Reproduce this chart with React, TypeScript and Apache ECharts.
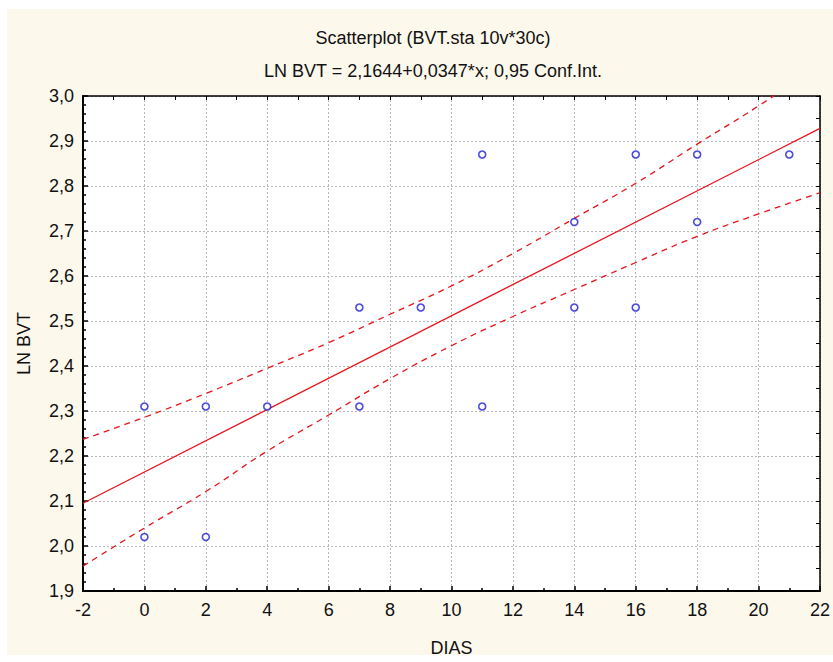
import React, { useEffect, useRef } from "react";
import * as echarts from "echarts";

const titleText = "Scatterplot (BVT.sta 10v*30c)";
const subtitleText = "LN BVT = 2,1644+0,0347*x; 0,95 Conf.Int.";
const xName = "DIAS";
const yName = "LN BVT";

// observed points (DIAS, LN BVT)
const pointX = [0, 0, 2, 2, 4, 7, 7, 9, 11, 11, 14, 14, 16, 16, 18, 18, 21];
const pointY = [2.31, 2.02, 2.31, 2.02, 2.31, 2.53, 2.31, 2.53, 2.87, 2.31, 2.72, 2.53, 2.87, 2.53, 2.87, 2.72, 2.87];

// regression line endpoints (from 2,1644 + 0,0347*x)
const fitX = [-2, 22];
const fitY = [2.095, 2.928];

// 95% confidence band
const bandX = [-2, 0, 2, 4, 6, 8, 10, 12, 14, 16, 18, 20, 22];
const upperY = [2.237, 2.286, 2.339, 2.395, 2.452, 2.515, 2.578, 2.65, 2.728, 2.806, 2.893, 2.978, 3.07];
const lowerY = [1.955, 2.04, 2.121, 2.211, 2.291, 2.372, 2.445, 2.51, 2.57, 2.63, 2.688, 2.738, 2.785];

const FONT = "'Liberation Sans Narrow', 'Arial Narrow', 'Liberation Sans', sans-serif";
const RED = "#e8141c";
const BLUE = "#1f1fd6";

export default function App() {
  const ref = useRef<HTMLDivElement>(null);
  useEffect(() => {
    if (!ref.current) return;
    const chart = echarts.init(ref.current, undefined, { renderer: "svg" });
    const zip = (xs: number[], ys: number[]) => xs.map((x, i) => [x, ys[i]]);
    chart.setOption({
      animation: false,
      backgroundColor: "#ffffff",
      graphic: [
        {
          type: "rect",
          z: -100,
          silent: true,
          shape: { x: 7, y: 9, width: 826, height: 646 },
          style: { fill: "#fdf8ec" },
        },
      ],
      title: [
        {
          text: titleText,
          left: 428,
          textAlign: "center",
          top: 24,
          textStyle: { fontFamily: FONT, fontSize: 18, fontWeight: "normal", color: "#111" },
        },
        {
          text: subtitleText,
          left: 428,
          textAlign: "center",
          top: 57,
          textStyle: { fontFamily: FONT, fontSize: 18, fontWeight: "normal", color: "#111" },
        },
      ],
      grid: {
        left: 83,
        top: 96,
        right: 6,
        bottom: 71,
        show: true,
        backgroundColor: "#ffffff",
        borderColor: "#000",
        borderWidth: 0,
      },
      xAxis: [
        {
          type: "value",
          min: -2,
          max: 22,
          interval: 2,
          position: "bottom",
          name: xName,
          nameLocation: "middle",
          nameGap: 48,
          nameTextStyle: { fontFamily: FONT, fontSize: 18, color: "#111" },
          axisLine: { show: true, onZero: false, lineStyle: { color: "#000", width: 2 } },
          axisTick: { show: true, inside: true, length: 5, lineStyle: { color: "#000", width: 1.5 } },
          minorTick: { show: true, splitNumber: 2, length: 3, lineStyle: { color: "#000", width: 1.5 } },
          axisLabel: { fontFamily: FONT, fontSize: 18, color: "#111", margin: 10 },
          splitLine: { show: true, lineStyle: { color: "#b8b8b8", type: [2, 2], width: 1 } },
        },
        {
          type: "value",
          min: -2,
          max: 22,
          interval: 1,
          position: "top",
          axisLine: { show: true, onZero: false, lineStyle: { color: "#000", width: 1.5 } },
          axisTick: { show: true, inside: true, length: 4, lineStyle: { color: "#000" } },
          axisLabel: { show: false },
          splitLine: { show: false },
        },
      ],
      yAxis: [
        {
          type: "value",
          min: 1.9,
          max: 3.0,
          interval: 0.1,
          position: "left",
          name: yName,
          nameLocation: "middle",
          nameGap: 50,
          nameTextStyle: { fontFamily: FONT, fontSize: 18, color: "#111" },
          axisLine: { show: true, onZero: false, lineStyle: { color: "#000", width: 2 } },
          axisTick: { show: true, inside: true, length: 5, lineStyle: { color: "#000", width: 1.5 } },
          minorTick: { show: true, splitNumber: 5, length: 3, lineStyle: { color: "#000", width: 1.5 } },
          axisLabel: {
            fontFamily: FONT,
            fontSize: 18,
            color: "#111",
            margin: 9,
            formatter: (v: number) => v.toFixed(1).replace(".", ","),
          },
          splitLine: { show: true, lineStyle: { color: "#b8b8b8", type: [2, 2], width: 1 } },
        },
        {
          type: "value",
          min: 1.9,
          max: 3.0,
          interval: 0.05,
          position: "right",
          axisLine: { show: true, onZero: false, lineStyle: { color: "#000", width: 1.5 } },
          axisTick: { show: true, inside: true, length: 4, lineStyle: { color: "#000" } },
          axisLabel: { show: false },
          splitLine: { show: false },
        },
      ],
      series: [
        {
          type: "line",
          name: "upper",
          data: zip(bandX, upperY),
          smooth: true,
          showSymbol: false,
          clip: true,
          lineStyle: { color: RED, width: 1.3, type: [6, 5] },
          z: 3,
        },
        {
          type: "line",
          name: "lower",
          data: zip(bandX, lowerY),
          smooth: true,
          showSymbol: false,
          clip: true,
          lineStyle: { color: RED, width: 1.3, type: [6, 5] },
          z: 3,
        },
        {
          type: "line",
          name: "fit",
          data: zip(fitX, fitY),
          showSymbol: false,
          clip: true,
          lineStyle: { color: RED, width: 1.3 },
          z: 3,
        },
        {
          type: "scatter",
          name: "points",
          data: zip(pointX, pointY),
          symbol: "circle",
          symbolSize: 7,
          itemStyle: { color: "#ffffff", borderColor: BLUE, borderWidth: 1.6 },
          z: 4,
        },
      ],
    });
    return () => chart.dispose();
  }, []);
  return (
    <div
      ref={ref}
      style={{ position: "absolute", left: 0, top: 0, width: 833, height: 662, background: "#fff" }}
    />
  );
}
